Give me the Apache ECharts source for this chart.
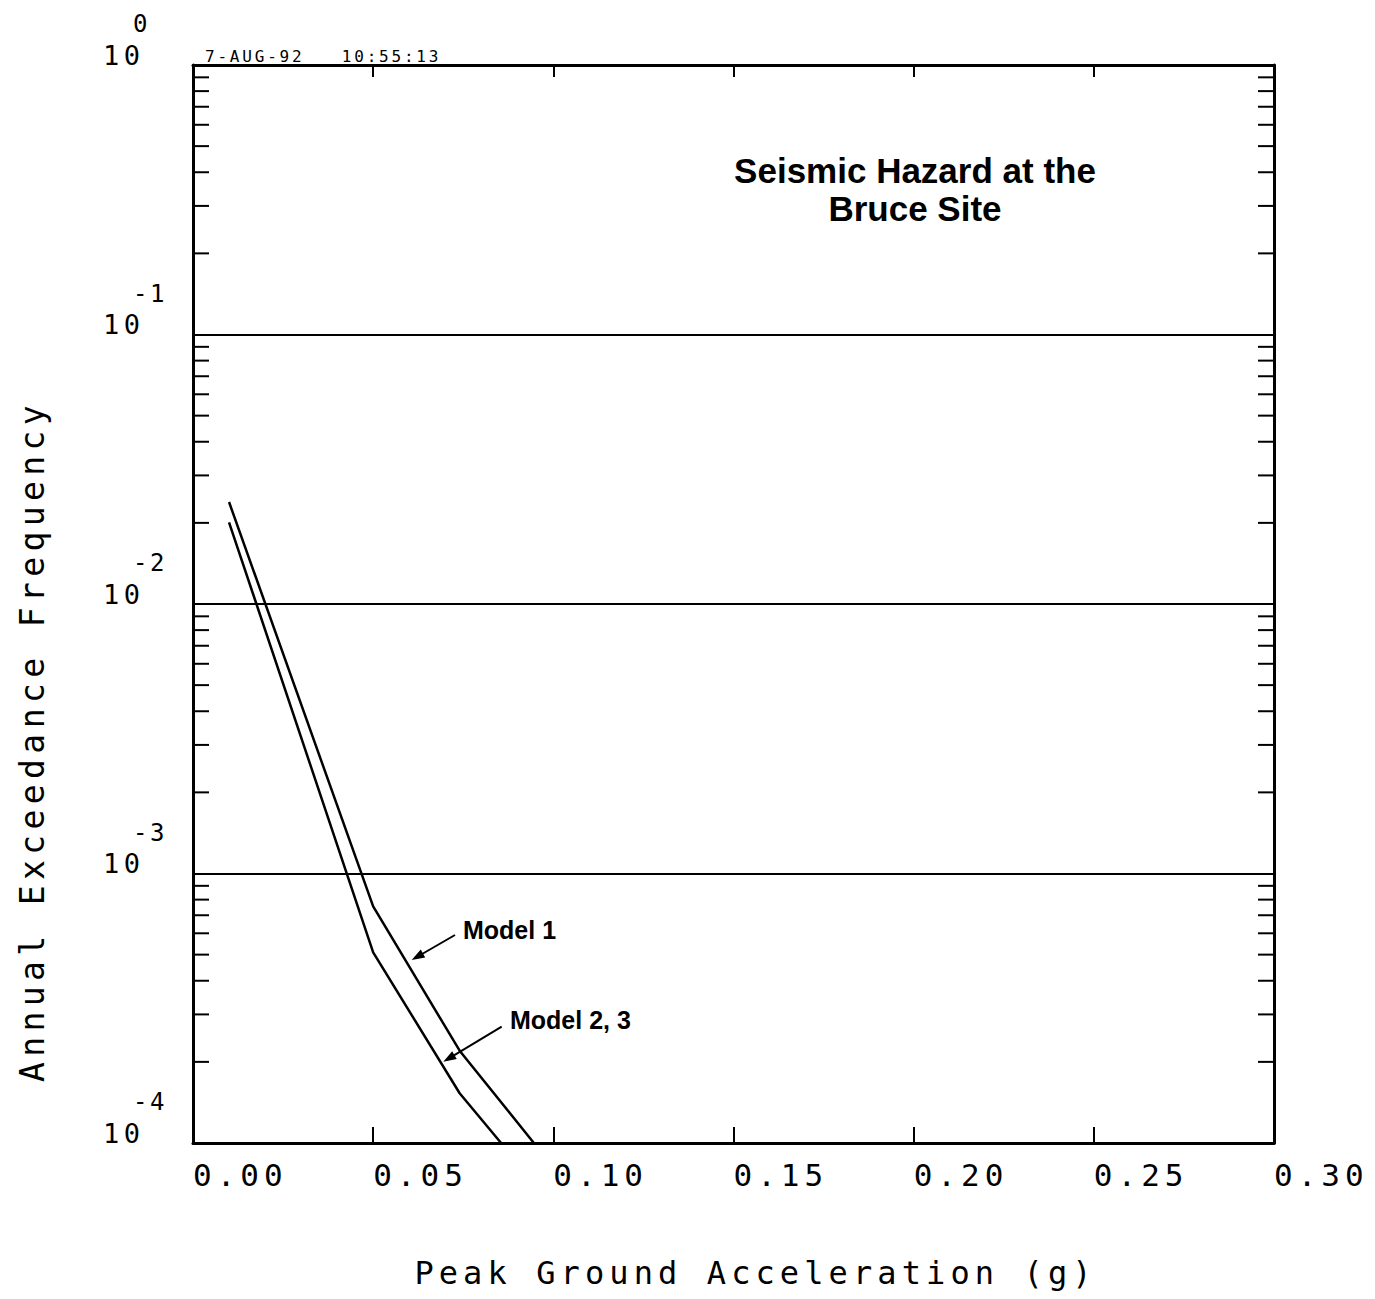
<!DOCTYPE html>
<html>
<head>
<meta charset="utf-8">
<title>Seismic Hazard at the Bruce Site</title>
<script src="https://cdn.jsdelivr.net/npm/echarts@6/dist/echarts.min.js"></script>
<style>
  html, body { margin: 0; padding: 0; background: #fff; }
  #chart { width: 1375px; height: 1299px; }
  /* plotter-style lettering: wide, evenly pitched characters */
  #chart svg text { white-space: pre; }
  #chart svg text[style*="31px"] { letter-spacing: 5px; }
  #chart svg text[style*="32px"] { letter-spacing: 5.1px; }
  #chart svg text[style*="33px"] { letter-spacing: 5.4px; }
  #chart svg text[style*="27px"] { letter-spacing: 4.5px; }
  #chart svg text[style*="24px"] { letter-spacing: 2.5px; }
  #chart svg text[style*="16px"] { letter-spacing: 2.8px; }
</style>
</head>
<body>
<div id="chart"></div>
<script>
// Peak ground acceleration (g) and annual exceedance frequency for each model
const model1Pga = [0.01, 0.05, 0.074, 0.0946];
const model1Freq = [0.0239, 7.55e-4, 2.2e-4, 1.0e-4];
const model23Pga = [0.01, 0.05, 0.074, 0.0855];
const model23Freq = [0.0201, 5.1e-4, 1.53e-4, 1.0e-4];

// Axis ranges and tick labels
const X_MIN = 0, X_MAX = 0.30, X_STEP = 0.05;
const xTickLabels = ['0.00', '0.05', '0.10', '0.15', '0.20', '0.25', '0.30'];
const Y_MIN = 1e-4, Y_MAX = 1;
const minorMantissas = [2, 3, 4, 5, 6, 7, 8, 9];
const decadeExponents = [-4, -3, -2, -1];

const stampText = '7-AUG-92   10:55:13';
const titleText = 'Seismic Hazard at the\nBruce Site';
const xTitle = 'Peak Ground Acceleration (g)';
const yTitle = 'Annual Exceedance Frequency';

const MONO = '"DejaVu Sans Mono", "Liberation Mono", monospace';
const SANS = '"Liberation Sans", Arial, Helvetica, sans-serif';
const INK = '#000';

// logarithmic minor tick values (2..9 within each decade)
const minorTickValues = [];
decadeExponents.forEach(function (e) {
  minorMantissas.forEach(function (m) {
    minorTickValues.push([X_MIN, m * Math.pow(10, e)]);
  });
});

function pairs(xs, ys) {
  return xs.map(function (x, i) { return [x, ys[i]]; });
}

// leader line with a filled arrowhead at its tip
function leader(from, to) {
  const dx = to[0] - from[0], dy = to[1] - from[1];
  const len = Math.hypot(dx, dy);
  const ux = dx / len, uy = dy / len;
  const head = 13, half = 4.5;
  const bx = to[0] - ux * head, by = to[1] - uy * head;
  return [
    { type: 'line', silent: true, shape: { x1: from[0], y1: from[1], x2: bx + ux * 2, y2: by + uy * 2 },
      style: { stroke: INK, lineWidth: 2 } },
    { type: 'polygon', silent: true,
      shape: { points: [to, [bx - uy * half, by + ux * half], [bx + uy * half, by - ux * half]] },
      style: { fill: INK } }
  ];
}

const chart = echarts.init(document.getElementById('chart'), null, { renderer: 'svg' });

const option = {
  animation: false,
  backgroundColor: '#fff',
  grid: { left: 193, top: 65, width: 1081, height: 1078, containLabel: false },
  xAxis: [
    {
      type: 'value', min: X_MIN, max: X_MAX, interval: X_STEP, position: 'bottom',
      axisLine: { onZero: false, lineStyle: { color: INK, width: 3 } },
      axisTick: { inside: true, length: 16, lineStyle: { color: INK, width: 2 } },
      axisLabel: {
        align: 'left', margin: 16, color: INK, fontFamily: MONO, fontSize: 31,
        formatter: function (v, i) { return xTickLabels[i]; }
      },
      splitLine: { show: false },
      name: xTitle, nameLocation: 'middle', nameGap: 114,
      nameTextStyle: { color: INK, fontFamily: MONO, fontSize: 32, padding: [0, 0, 0, 44] }
    },
    {
      type: 'value', min: X_MIN, max: X_MAX, interval: X_STEP, position: 'top',
      axisLine: { onZero: false, lineStyle: { color: INK, width: 3 } },
      axisTick: { inside: true, length: 12, lineStyle: { color: INK, width: 2 } },
      axisLabel: { show: false },
      splitLine: { show: false }
    }
  ],
  yAxis: [
    {
      type: 'log', logBase: 10, min: Y_MIN, max: Y_MAX, position: 'left',
      axisLine: { show: true, onZero: false, lineStyle: { color: INK, width: 3 } },
      axisTick: { show: false },
      splitLine: { show: true, lineStyle: { color: INK, width: 2 } },
      axisLabel: {
        align: 'left', verticalAlign: 'bottom', margin: 90,
        formatter: function (v) {
          return '{e|' + Math.round(Math.log10(v)) + '}\n{b|10}';
        },
        rich: {
          e: { color: INK, fontFamily: MONO, fontSize: 24, lineHeight: 42, padding: [0, 0, 0, 30] },
          b: { color: INK, fontFamily: MONO, fontSize: 27, lineHeight: 20 }
        }
      },
      name: yTitle, nameLocation: 'middle', nameGap: 144,
      nameTextStyle: { color: INK, fontFamily: MONO, fontSize: 33, padding: [0, 274, 0, 0] }
    },
    {
      type: 'log', logBase: 10, min: Y_MIN, max: Y_MAX, position: 'right',
      axisLine: { show: true, onZero: false, lineStyle: { color: INK, width: 3 } },
      axisTick: { show: false },
      axisLabel: { show: false },
      splitLine: { show: false }
    }
  ],
  series: [
    {
      name: 'Model 1', type: 'line', xAxisIndex: 0, yAxisIndex: 0,
      data: pairs(model1Pga, model1Freq),
      symbol: 'none', silent: true,
      lineStyle: { color: INK, width: 2.5 }
    },
    {
      name: 'Model 2, 3', type: 'line', xAxisIndex: 0, yAxisIndex: 0,
      data: pairs(model23Pga, model23Freq),
      symbol: 'none', silent: true,
      lineStyle: { color: INK, width: 2.5 }
    },
    {
      name: 'minor ticks', type: 'custom', xAxisIndex: 0, yAxisIndex: 0,
      data: minorTickValues, silent: true, clip: false,
      renderItem: function (params, api) {
        const v = api.value(1);
        const L = api.coord([X_MIN, v]);
        const R = api.coord([X_MAX, v]);
        const len = 16;
        return {
          type: 'group',
          children: [
            { type: 'line', shape: { x1: L[0], y1: L[1], x2: L[0] + len, y2: L[1] },
              style: { stroke: INK, lineWidth: 2 } },
            { type: 'line', shape: { x1: R[0] - len, y1: R[1], x2: R[0], y2: R[1] },
              style: { stroke: INK, lineWidth: 2 } }
          ]
        };
      }
    }
  ],
  graphic: [
    {
      type: 'text', x: 915, y: 189, silent: true,
      style: {
        text: titleText, fill: INK, fontFamily: SANS, fontWeight: 'bold', fontSize: 35,
        lineHeight: 38, align: 'center', verticalAlign: 'middle'
      }
    },
    {
      type: 'text', x: 205, y: 56, silent: true,
      style: { text: stampText, fill: INK, fontFamily: MONO, fontSize: 16, align: 'left', verticalAlign: 'middle' }
    },
    {
      type: 'text', x: 463, y: 930, silent: true,
      style: { text: 'Model 1', fill: INK, fontFamily: SANS, fontWeight: 'bold', fontSize: 25, align: 'left', verticalAlign: 'middle' }
    },
    {
      type: 'text', x: 510, y: 1020, silent: true,
      style: { text: 'Model 2, 3', fill: INK, fontFamily: SANS, fontWeight: 'bold', fontSize: 25, align: 'left', verticalAlign: 'middle' }
    }
  ].concat(leader([455, 935], [411.7, 960]), leader([501.7, 1026.7], [443.3, 1061.7]))
};

chart.setOption(option);
</script>
</body>
</html>
